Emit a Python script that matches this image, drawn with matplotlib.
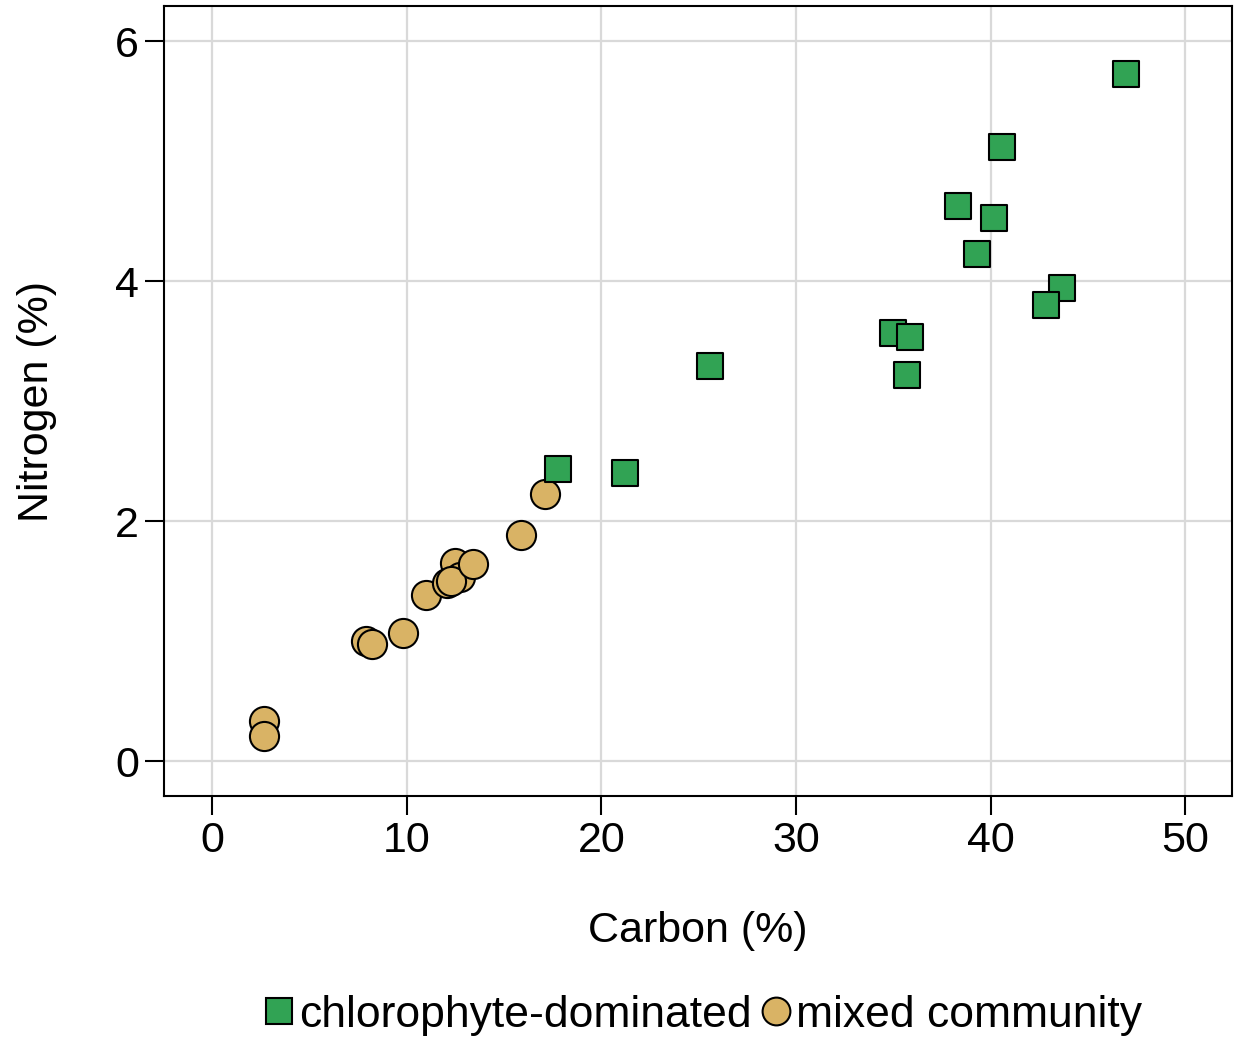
import numpy as np
import matplotlib.pyplot as plt
from matplotlib.lines import Line2D

plt.rcParams['font.family'] = ['Liberation Sans', 'DejaVu Sans']

# chlorophyte-dominated samples
chloro_c = [46.97, 40.6, 38.33, 40.18, 39.31, 43.68, 42.86, 35.0, 35.87, 35.71, 25.59, 17.78, 21.22]
chloro_n = [5.725, 5.12, 4.63, 4.53, 4.225, 3.94, 3.80, 3.567, 3.533, 3.217, 3.29, 2.433, 2.40]

# mixed community samples
mixed_c = [2.67, 2.67, 7.91, 8.22, 9.81, 11.0, 12.49, 12.74, 12.08, 12.28, 13.41, 15.88, 17.11]
mixed_n = [0.333, 0.208, 1.0, 0.975, 1.067, 1.383, 1.65, 1.533, 1.483, 1.5, 1.642, 1.883, 2.225]

green = '#31a354'
tan = '#d9b365'

fig = plt.figure(figsize=(12.38, 10.38), dpi=100)
ax = fig.add_axes([0.1325, 0.233, 0.8625, 0.761])

ax.grid(True, color='#d9d9d9', linewidth=1.6, zorder=0)
ax.scatter(mixed_c, mixed_n, s=440, marker='o', c=tan, edgecolors='black',
           linewidths=1.5, zorder=3)
ax.scatter(chloro_c, chloro_n, s=370, marker='s', c=green, edgecolors='black',
           linewidths=1.5, zorder=3)

ax.set_xlim(-2.47, 52.4)
ax.set_ylim(-0.29, 6.29)
ax.set_xticks([0, 10, 20, 30, 40, 50])
ax.set_yticks([0, 2, 4, 6])
ax.tick_params(axis='both', labelsize=31, length=14, width=1.5, direction='out', pad=4)
for sp in ax.spines.values():
    sp.set_linewidth(1.5)

ax.set_xlabel('Carbon (%)', fontsize=31, labelpad=36)
ax.set_ylabel('Nitrogen (%)', fontsize=31, labelpad=42)

handles = [
    Line2D([], [], marker='s', linestyle='none', markersize=19, markerfacecolor=green,
           markeredgecolor='black', markeredgewidth=1.5, label='chlorophyte-dominated'),
    Line2D([], [], marker='o', linestyle='none', markersize=20, markerfacecolor=tan,
           markeredgecolor='black', markeredgewidth=1.5, label='mixed community'),
]
fig.legend(handles=handles, loc='center', bbox_to_anchor=(0.566, 0.022), ncol=2,
           frameon=False, fontsize=32, handletextpad=0.0, columnspacing=0.1,
           handlelength=0.9, borderaxespad=0)

fig.savefig('out.png', dpi=100)
